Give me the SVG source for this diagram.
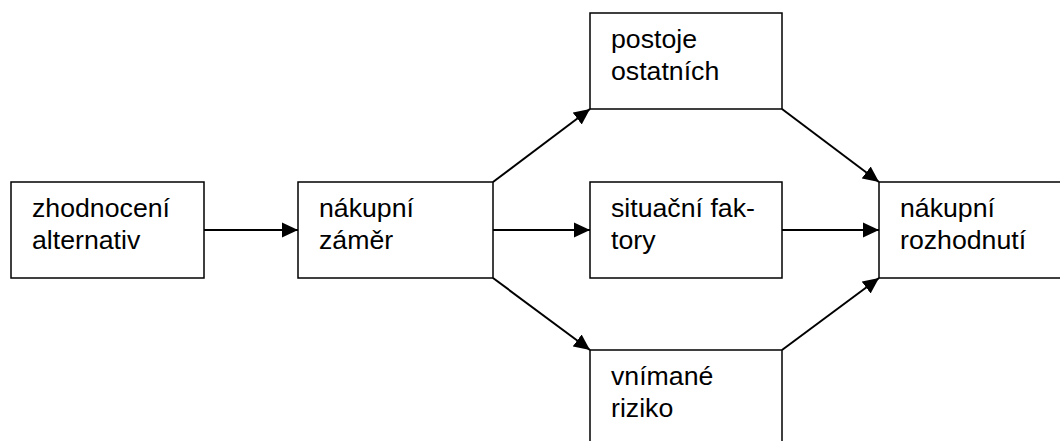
<svg xmlns="http://www.w3.org/2000/svg" width="1060" height="441" viewBox="0 0 1060 441">
<style>
.box{fill:#fff;stroke:#000;stroke-width:1.5}
.t{font-family:"Liberation Sans",Arial,sans-serif;font-size:26.7px;fill:#000}
.c{stroke:#000;stroke-width:2;fill:none;marker-end:url(#ah)}
</style>
<defs>
<marker id="ah" markerUnits="userSpaceOnUse" markerWidth="16" markerHeight="16" viewBox="0 0 16 16" refX="16" refY="8" orient="auto">
<path d="M0,0.5 L16,8 L0,15.5 Z" fill="#000"/>
</marker>
</defs>
<rect width="1060" height="441" fill="#fff"/>
<g id="connectors">
<line class="c" x1="204" y1="230" x2="298" y2="230"/>
<line class="c" x1="493" y1="182" x2="590" y2="109"/>
<line class="c" x1="493" y1="230" x2="590" y2="230"/>
<line class="c" x1="493" y1="278" x2="590" y2="350"/>
<line class="c" x1="782" y1="109" x2="879" y2="182"/>
<line class="c" x1="782" y1="230" x2="879" y2="230"/>
<line class="c" x1="782" y1="350" x2="879" y2="278"/>
</g>
<g id="n1"><rect class="box" x="11" y="182" width="193" height="96"/><text class="t" x="32" y="217">zhodnocení</text><text class="t" x="32" y="249">alternativ</text></g>
<g id="n2"><rect class="box" x="298" y="182" width="195" height="96"/><text class="t" x="319" y="217">nákupní</text><text class="t" x="319" y="249">záměr</text></g>
<g id="n3"><rect class="box" x="590" y="13" width="192" height="96"/><text class="t" x="611" y="48">postoje</text><text class="t" x="611" y="80">ostatních</text></g>
<g id="n4"><rect class="box" x="590" y="182" width="192" height="96"/><text class="t" x="611" y="217">situační fak-</text><text class="t" x="611" y="249">tory</text></g>
<g id="n5"><rect class="box" x="590" y="350" width="192" height="96"/><text class="t" x="611" y="385">vnímané</text><text class="t" x="611" y="417">riziko</text></g>
<g id="n6"><rect class="box" x="879" y="182" width="190" height="96"/><text class="t" x="900" y="217">nákupní</text><text class="t" x="900" y="249">rozhodnutí</text></g>
</svg>
